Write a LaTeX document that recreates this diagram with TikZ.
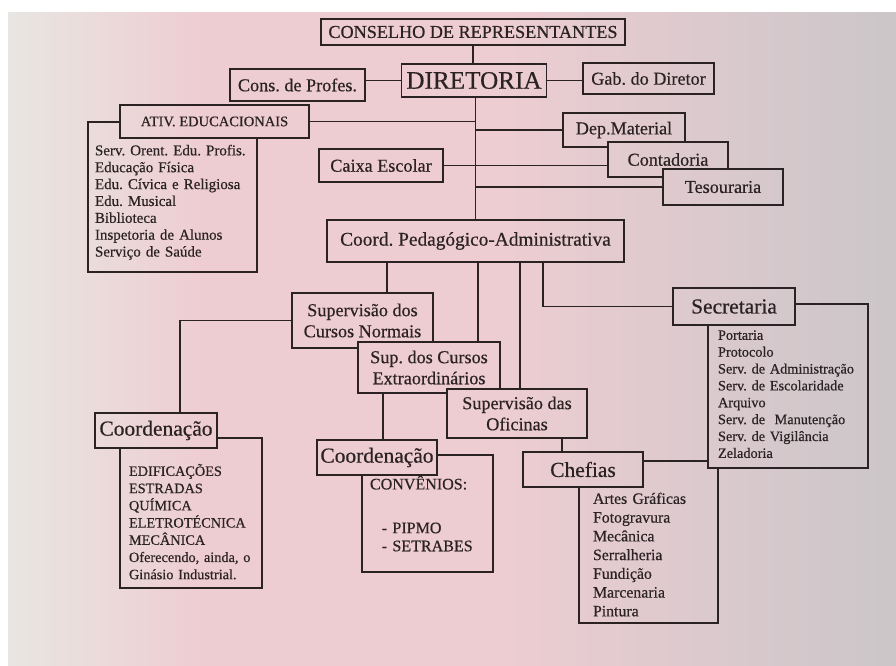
\documentclass[tikz,border=0pt]{standalone}
\usepackage{fontspec}
\setmainfont{Liberation Serif}[UprightFeatures={FakeBold=0.5}]
\usetikzlibrary{positioning, calc}
\definecolor{ink}{HTML}{2B2224}
\definecolor{paperl}{HTML}{E8E6E2}
\definecolor{paperm}{HTML}{EECDD2}
\definecolor{paperr}{HTML}{CBC6C9}
\pgfdeclarehorizontalshading{paper}{100bp}{color(0bp)=(paperl); color(25bp)=(paperl);
  color(36bp)=(paperm); color(52bp)=(paperm); color(75bp)=(paperr); color(100bp)=(paperr)}
\newlength\pu
\setlength\pu{0.3mm}
\newcommand\lead[1]{\rule{0pt}{#1}}
\frenchspacing

\begin{document}
\begin{tikzpicture}[x=0.3mm, y=-0.3mm,
  paper/.style={path picture={\shade[shading=paper] (pgnw) rectangle (pgse);}},
  box/.style={rectangle, draw=ink, line width=1.6pt, paper, text=ink,
              inner sep=0pt, align=center, font=\fontsize{15.5}{18}\selectfont},
  head/.style={box, font=\fontsize{18.3}{21}\selectfont},
  sz/.style 2 args={minimum width=#1\pu, minimum height=#2\pu},
  lst/.style={box, align=left, font=\fontsize{12.8}{14.4}\selectfont},
  line/.style={draw=ink, line width=1.6pt},
]
  \useasboundingbox (0,0) rectangle (896,666);
  %% paper
  \fill[white] (0,0) rectangle (896,666);
  \coordinate (pgnw) at (8,12);
  \coordinate (pgse) at (896,666);
  \shade[shading=paper] (pgnw) rectangle (pgse);

  %% top of the chart
  \node[box, sz={304}{26}] (cons) at (473, 32) {CONSELHO DE REPRESENTANTES};
  \node[box, sz={145}{33}, font=\fontsize{21.5}{24}\selectfont] (dir) at (474, 80.5) {DIRETORIA};
  \node[box, sz={135}{32}] (prof) at (297.5, 85) {Cons. de Profes.};
  \node[box, sz={131}{31}] (gab)  at (648.5, 78.5) {Gab. do Diretor};

  %% ativ. educacionais
  \node[lst, sz={169}{150}, inner xsep=7\pu, text width=155\pu] (ativl) at (172.5, 197)
    {\lead{18pt}Serv. Orent. Edu. Profis.\\Educação Física\\Edu. Cívica e Religiosa\\
     Edu. Musical\\Biblioteca\\Inspetoria de Alunos\\Serviço de Saúde};
  \node[box, sz={189}{33}, font=\fontsize{12.4}{14}\selectfont] (ativh) at (214.5, 121.5) {ATIV. EDUCACIONAIS};

  %% side boxes
  \node[box, sz={124}{33}] (caixa) at (381, 165.5) {Caixa Escolar};
  \node[box, sz={122}{34}] (dep)   at (624, 130)   {Dep.Material};
  \node[box, sz={120}{35}] (cont)  at (668, 159.5) {Contadoria};
  \node[box, sz={120}{36}] (tes)   at (723, 187)   {Tesouraria};

  \node[box, sz={297}{42}, font=\fontsize{16.5}{19}\selectfont] (coord) at (475.5, 241)
    {Coord. Pedagógico-Administrativa};

  %% supervisions
  \node[box, sz={141}{55}] (supn) at (362.5, 320.5) {Supervisão dos\\Cursos Normais};
  \node[box, sz={142}{51}] (supe) at (429, 367.5)   {Sup. dos Cursos\\Extraordinários};
  \node[box, sz={140}{49}] (supo) at (517, 413.5)   {Supervisão das\\Oficinas};

  %% coordenações
  \node[lst, sz={142}{150}, inner xsep=9\pu, text width=124\pu, font=\fontsize{12.2}{14.7}\selectfont]
    (c1l) at (191, 513)
    {\lead{25pt}EDIFICAÇÕES\\ESTRADAS\\QUÍMICA\\ELETROTÉCNICA\\MECÂNICA\\
     Oferecendo, ainda, o\\Ginásio Industrial.};
  \node[head, sz={122}{35}] (c1h) at (156, 430.5) {Coordenação};

  \node[lst, sz={131}{117}, inner xsep=8\pu, text width=115\pu, font=\fontsize{13.7}{15.4}\selectfont]
    (c2l) at (427.5, 513.5)
    {CONVÊNIOS:\\[22pt]\hspace*{10pt}- PIPMO\\\hspace*{10pt}- SETRABES};
  \node[head, sz={120}{35}] (c2h) at (377, 457.5) {Coordenação};

  %% chefias and secretaria
  \node[lst, sz={139}{162}, inner xsep=14\pu, text width=111\pu, font=\fontsize{13.5}{16}\selectfont]
    (chl) at (648.5, 542)
    {\lead{31pt}Artes Gráficas\\Fotogravura\\Mecânica\\Serralheria\\Fundição\\Marcenaria\\Pintura};
  \node[head, sz={120}{35}] (chh) at (583, 469.5) {Chefias};

  \node[lst, sz={160}{164}, inner xsep=10\pu, text width=140\pu, font=\fontsize{12.2}{14.4}\selectfont]
    (secl) at (788, 386)
    {\lead{22pt}Portaria\\Protocolo\\Serv. de Administração\\Serv. de Escolaridade\\Arquivo\\
     Serv. de~ Manutenção\\Serv. de Vigilância\\Zeladoria};
  \node[head, sz={122}{37}] (sech) at (734, 306.5) {Secretaria};

  %% connectors, top
  \draw[line] (cons.south) -- (cons.south |- dir.north);
  \draw[line] (dir.west) -- (dir.west -| prof.east);
  \draw[line] (dir.east) -- (dir.east -| gab.west);
  \draw[line] (coord.north |- dir.south) -- (coord.north);
  \draw[line] (ativh.east) -- (ativh.east -| coord.north);
  \draw[line] (dep.west) -- (dep.west -| coord.north);
  \draw[line] (caixa.east) -- (caixa.east -| cont.west);
  \draw[line] (tes.west) -- (tes.west -| coord.north);

  %% connectors under coord
  \coordinate (pn) at ($(coord.south)+(-88.5,0)$);
  \coordinate (pe) at ($(coord.south)+(2.5,0)$);
  \coordinate (po) at ($(coord.south)+(44.5,0)$);
  \coordinate (ps) at ($(coord.south)+(67.5,0)$);
  \draw[line] (pn) -- (pn |- supn.north);
  \draw[line] (pe) -- (pe |- supe.north);
  \draw[line] (po) -- (po |- supo.north);
  \draw[line] (ps) |- (sech.west);

  %% connectors to the coordenações and chefias
  \draw[line] (supn.west) -| ($(c1h.north)+(24,0)$);
  \coordinate (qe) at ($(supe.south)+(-46,0)$);
  \draw[line] (qe) -- (qe |- c2h.north);
  \coordinate (qo) at ($(supo.south)+(45,0)$);
  \draw[line] (qo) -- (qo |- chh.north);
\end{tikzpicture}
\end{document}
